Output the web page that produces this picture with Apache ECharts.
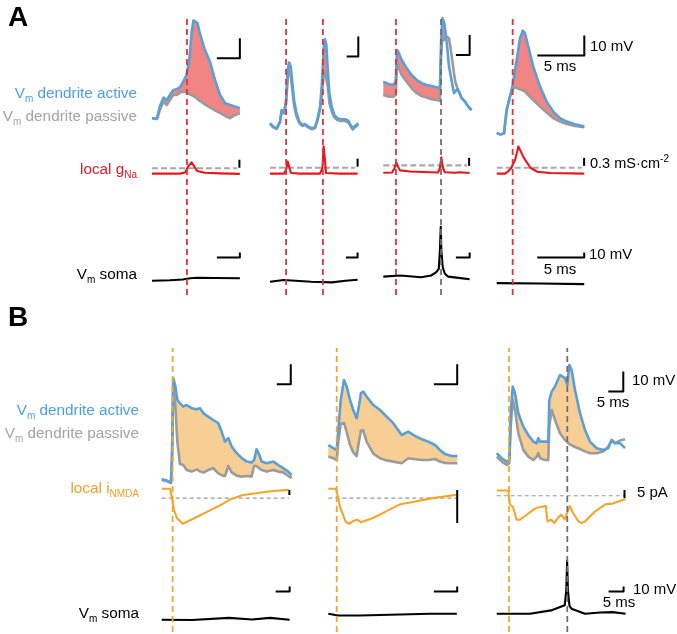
<!DOCTYPE html>
<html><head><meta charset="utf-8">
<script src="https://cdn.jsdelivr.net/npm/echarts@6/dist/echarts.min.js"></script>
<style>html,body{margin:0;padding:0;background:#fff}#c{width:677px;height:634px}</style>
</head><body><div id="c"></div>
<script>
// ================= DATA (time in ms, voltage in mV, gNa in mS/cm2, current in pA) =================
// ---- Panel A, column 1
const a1T = [0,1.1,1.7,2.5,3.2,3.9,4.6,5.4,6.1,6.8,7.5,8.1,8.6,9.0,9.4,9.9,10.4,11.5,12.6,13.7,14.8,15.9,17.0,18.0,19.1];
const a1Active = [5.9,5.9,11.7,16.2,15,17.5,20,20.4,21.4,24.2,27.5,35,48.5,54.7,55.4,53.4,48.4,40,34.2,25,17.5,13.4,12.5,11.7,10.9];
const a1Passive = [5.9,5.5,10,14.2,12.5,15,17.5,17.5,18.7,19.2,18.7,18,17.5,17,16.5,15.5,14.5,12.8,11.3,9.8,8.5,7,5.9,7.5,8.4];
const a1GT = [0,6.1,7.2,7.8,8.6,9.1,9.8,11.5,14.8,19.1];
const a1G = [0.24,0.24,0.28,0.49,0.66,0.53,0.34,0.27,0.25,0.23];
const a1ST = [0,3.9,6.7,8.3,9.8,13.7,19.1];
const a1Soma = [18.6,19.4,21,23.4,24.4,24,23.4];
const a1NaMarks = [7.6];
const a1SpikeMarks = [];
// ---- Panel A, column 2
const a2T = [0,1.4,2.9,4.3,5.0,6.0,6.9,7.6,8.2,8.9,9.6,10.4,11.4,12.6,13.9,15.0,16.5,17.9,19.3,20.3,21.5,22.3,23.0,23.6,24.2,24.8,25.5,26.5,27.6,28.9,30.3,32.2,33.6,34.6,35.5,36.5,37.9];
const a2Active = [3.4,1.7,0.9,4.2,10,8.7,15,30,33.7,31.7,23.4,14.2,8.4,4.2,2.5,3.0,1.7,0.9,1.4,5,11.7,23.4,40,45.4,42.5,30,18.4,11.7,7.5,5.9,5.4,5.4,4.7,2.5,0.9,2,3.4];
const a2Passive = [3.0,1.3,0.5,3.8,9.7,8.3,13,26,29.2,27,20,11.7,6.7,3.4,2.0,2.5,1.2,0.4,0.9,4.5,10,18,26.7,29.2,28.4,21.7,13.4,9.2,6.4,5,4.5,4.5,3.8,1.8,0.2,1.4,2.8];
const a2GT = [0,6.0,6.9,7.6,8.4,9.0,12.9,21.5,22.5,23.0,23.6,24.0,30.0,37.6];
const a2G = [0.24,0.24,0.38,0.69,0.45,0.26,0.24,0.24,0.45,1.26,0.75,0.26,0.24,0.24];
const a2ST = [0,5.9,17.7,26.5,32.4,37.6];
const a2Soma = [16.6,20,16.6,15.2,18.6,20.6];
const a2NaMarks = [6.9,22.7];
const a2SpikeMarks = [];
// ---- Panel A, column 3
const a3T = [0,1.8,3.6,4.5,5.0,5.7,6.7,8.5,10.3,12.2,14.0,15.8,17.6,19.4,20.6,21.0,21.5,22.2,23.1,23.9,24.9,25.7,26.2,26.8,27.5,28.5,29.7,30.9,32.1];
const a3Active = [24.2,23,22.5,24.2,40,38.4,35,30.9,27.5,25,23.4,22.5,22,21.4,20.9,43.4,55.9,53.4,43.4,31.7,24.2,18.4,18,20.4,19.2,15.9,14.2,11.7,10];
const a3Passive = [17.5,16.7,16.7,17.5,33.4,30.9,27.5,24.2,20.9,18.4,17,16.2,15.4,15,14.7,36.7,46.7,45,46.7,45.9,36.7,28.4,24,21.5,19.2,15.9,14.2,11.7,10];
const a3GT = [0,3.2,4.1,4.7,5.4,6.1,9.7,17.0,19.9,20.6,21.1,21.7,22.4,26.1,27.9,31.4];
const a3G = [0.27,0.28,0.45,0.66,0.49,0.36,0.32,0.29,0.28,0.45,0.85,0.45,0.29,0.27,0.29,0.26];
const a3ST = [0,6.2,13.7,17.4,19.3,20.2,20.6,20.9,21.1,21.6,22.4,23.6,27.4,31.4];
const a3Soma = [26.8,29,25.4,29,35.8,42.6,80.2,126.2,80.2,46,32.4,26.8,24.2,21.4];
const a3NaMarks = [4.6];
const a3SpikeMarks = [21.0];
// ---- Panel A, column 4
const a4T = [0,0.35,0.78,1.06,1.41,1.7,1.95,2.13,2.48,2.77,3.01,3.36,3.89,4.61,5.32,6.02,6.73,7.45,8.33,9.32];
const a4Active = [-1.4,-2.2,-1.7,10,16.7,22.5,30,35,45.9,49.7,48.4,41.7,31.7,21.7,14.2,9.2,5.9,4.2,2.9,1.7];
const a4Passive = [-1.4,-2.2,-1.7,10,16.7,20.4,21.4,21,20.4,19.8,19.2,17.5,15,11.7,8.7,5.9,4.2,3,2,1.4];
const a4GT = [0,0.9,1.22,1.55,1.95,2.31,2.86,3.59,4.32,5.67,9.31];
const a4G = [0.24,0.24,0.33,0.45,0.75,1.26,0.85,0.46,0.31,0.26,0.24];
const a4ST = [0,4.6,9.31];
const a4Soma = [13.8,13,11.8];
const a4NaMarks = [1.7];
const a4SpikeMarks = [];
const gNaRef = [0.44,0.46,0.55,0.46];

// ---- Panel B, column 1
const b1T = [0,1.8,3.3,3.7,4.1,4.8,5.6,6.5,7.7,8.9,10.7,12.5,13.7,14.9,16.6,18.4,20.2,21.4,22.6,23.8,25.0,26.8,28.6,30.4,32.1,33.0,33.9,34.9,35.7,37.5,39.9,41.6,43.4,45.2,46.4];
const b1Active = [5.4,4.7,3.7,15,55.9,52.5,45,43.4,41.7,42.5,40.9,40.4,40.9,38.4,36.7,35,33.4,29.2,24.2,25.9,21.7,18.4,15.9,14.2,13.7,15,20.4,17.5,14.2,13.4,14.2,12.5,10.9,9.2,7.5];
const b1Passive = [5,4.5,3.5,18.5,51.7,43.4,24,13,12.5,10,9.2,10.3,9.3,8.7,10,10.9,8.3,7.4,7,12,8.8,7.2,6.7,7,6.7,12,12,10.8,10,9.2,10,9.2,8.8,7,5.9];
const b1IT = [0,3.0,3.3,3.8,4.4,5.4,7.5,11.8,16.7,21.6,24.0,28.9,33.8,38.7,45.4];
const b1I = [1.2,1.2,-3,-10,-20,-28,-33.8,-28,-21.1,-14.2,-10.1,-5,-3.3,-1.2,0.1];
const b1ST = [0,10.8,24.0,32.2,38.7,45.7];
const b1Soma = [20.6,20,24.2,21,24.2,20.6];
const b1InputMarks = [3.9];
const b1SpikeMarks = [];
// ---- Panel B, column 2
const b2T = [0,1.07,1.8,2.14,2.66,3.36,3.94,4.65,5.35,6.06,6.55,6.98,7.47,8.2,9.64,11.07,12.5,13.92,15.72,17.13,18.57,20.0,21.41,22.85,23.9,24.97,26.42,27.62];
const b2Active = [22.5,20.9,20,30,45,55,51.7,45,40,35.9,41.7,48.4,49.2,46.7,42.5,40,36.7,33.4,27.5,29.2,27,25.4,24.2,22.5,20,18,17,17];
const b2Passive = [16.7,15.9,15,24.2,33,33.5,29,22.5,18.8,16.9,24,29.7,29.8,24.2,18.2,15.9,14.8,14.2,13.4,15.9,15.4,15,15,15.5,14.2,13.5,13.4,13.4];
const b2IT = [0,1.63,1.97,2.57,3.68,4.41,5.29,6.25,6.98,9.55,12.48,15.42,18.35,22.01,27.52];
const b2I = [0.18,0.18,-0.76,-2.68,-4.76,-5.12,-4.7,-4.5,-4.9,-4.24,-3.2,-2.15,-1.79,-1.27,-0.71];
const b2ST = [0,2.08,6.79,15.35,21.78,27.52];
const b2Soma = [32.4,29,29,31,32.4,32.4];
const b2InputMarks = [1.8];
const b2SpikeMarks = [];
// ---- Panel B, column 3
const b3T = [0,1.67,3.33,4.2,4.67,5.33,6.1,7.2,8.87,10.53,12.2,13.33,13.87,14.43,16.1,17.2,17.53,18.33,19.43,21.1,22.77,23.53,24.2,25.0,26.1,27.77,29.43,31.1,33.33,35.53,37.2,38.33,39.43,41.1,42.77];
const b3Active = [18.4,15.9,14.2,15,38.4,51.7,48.4,38.4,31.7,27.5,24.2,23.4,25.9,24.2,24.2,24.2,45,49.2,51.7,57.5,55.9,52.5,62.5,60,50,38.4,30,24.2,20.9,20,20.9,25,23.4,23.4,20.9];
const b3Passive = [16.7,14.2,12.5,13.4,31.7,45,40,28.4,20,16.7,15,16.7,18.4,15.9,15,15,31.7,40,35,28.4,25,24,23,22.3,21.5,20.5,19.3,18.4,18.4,19.2,21.7,25,23.4,24.7,25.4];
const b3IT = [0,3.83,4.4,5.43,6.67,7.77,10.1,12.37,13.43,14.67,16.37,16.93,18.1,19.23,20.37,21.5,22.67,23.47,24.37,25.43,27.23,28.37,29.43,32.93,36.37,38.63,39.2,42.97];
const b3I = [-0.31,-0.31,-8.88,-10.63,-18.56,-18.56,-15.31,-12.13,-11.06,-10.63,-10,-19.63,-18.56,-20.69,-17.44,-15.31,-18.56,-14.25,-10,-14.25,-19.63,-20.69,-19.63,-13.19,-8.88,-8.5,-7.81,-5.69];
const b3ST = [0,11.1,18.1,22.67,23.2,23.47,23.73,24.27,24.93,29.43,34.43,38.63,42.97];
const b3Soma = [32.4,32.4,39.2,49.4,80,138.4,80,48,42.6,32.4,35,35.8,32.4];
const b3InputMarks = [4.1];
const b3SpikeMarks = [23.53];
const iNmdaRef = [-8.1,-1.23,-3.56];

// ================= LAYOUT (pixels) & STYLE =================
const A_COLS = [
  {left:152, width:88, tMax:19.13},
  {left:270, width:88.3, tMax:37.9},
  {left:383.3, width:88.4, tMax:32.15},
  {left:496.7, width:87.6, tMax:9.32}
];
const A_ROWS = {dend:{top:10,height:130,min:-5,max:60}, g:{top:140,height:40,min:0,max:1.5}, soma:{top:215,height:75,min:0,max:150}, marks:{top:16,height:279}};
const B_COLS = [
  {left:161.7, width:130, tMax:46.43, iMin:-40, iMax:8},
  {left:328.3, width:129, tMax:27.62, iMin:-6.06, iMax:1.21},
  {left:496.7, width:128.3, tMax:42.77, iMin:-25, iMax:5}
];
const B_ROWS = {dend:{top:340,height:150,min:0,max:75}, i:{top:482,height:48}, soma:{top:545,height:85,min:0,max:170}, marks:{top:348,height:284}};
// scale bars in data units (5 ms / 10 mV / 0.3 mS cm-2 / 5 pA)
const A_SB_DEND = [{t:19.1,v:35.9},{t:37.9,v:36.7},{t:31.4,v:37.5},{t:9.32,v:37.2}];
const A_SB_G = [{t:19.0,g:0.46},{t:37.6,g:0.50},{t:31.2,g:0.53},{t:9.3,g:0.53}];
const A_SB_SOMA = [{t:19.1,v:65.2},{t:37.6,v:65.2},{t:31.4,v:65.2},{t:9.31,v:65.2}];
const B_SB_DEND = [{t:46.1,v:52.9},{t:27.6,v:52.9},{t:42.2,v:49.2}];
const B_SB_I = [{t:45.6},{t:27.6},{t:42.6}];
const B_SB_SOMA = [{t:45.7,v:76.8},{t:27.6,v:76.8},{t:42.3,v:76.8}];

const C = {active:'#5a9fd6', passive:'#9b9b9b', red:'#e5161c', redFill:'#f08583', redMark:'#e0343a',
  orange:'#f3a52d', orangeFill:'#f7ce93', spikeMark:'#6f6f6f', gRef:'#a8a8a8', iRef:'#999999',
  lblBlue:'#4d9fe2', lblGrey:'#a3a3a3', lblRed:'#e3191f', lblOrange:'#f0a02a'};
const FONT = '"Liberation Sans", Arial, Helvetica, sans-serif';

// ================= BUILD =================
const grids=[], xAxes=[], yAxes=[], series=[];
function addGrid(left, top, width, height, xmax, ymin, ymax){
  grids.push({left, top, width, height, show:false, containLabel:false});
  const gi = grids.length-1;
  xAxes.push({type:'value', gridIndex:gi, min:0, max:xmax, show:false});
  yAxes.push({type:'value', gridIndex:gi, min:ymin, max:ymax, show:false});
  return gi;
}
function line(gi, t, v, color, width, z, dash){
  series.push({type:'line', xAxisIndex:gi, yAxisIndex:gi, data:t.map((x,i)=>[x,v[i]]),
    showSymbol:false, symbol:'none', clip:false, silent:true, animation:false, z:z||3,
    lineStyle:{color, width, type:dash||'solid', cap:'butt', join:'round'}});
}
function fill(gi, t, up, lo, color){
  series.push({type:'custom', xAxisIndex:gi, yAxisIndex:gi, silent:true, z:1, animation:false,
    data:[[t[0], lo[0]]],
    renderItem:(p, api)=>{
      const pts=[];
      for(let i=0;i<t.length;i++) pts.push(api.coord([t[i], Math.max(up[i], lo[i])]));
      for(let i=t.length-1;i>=0;i--) pts.push(api.coord([t[i], lo[i]]));
      return {type:'polygon', shape:{points:pts}, style:{fill:color}};
    }});
}
function marks(gi, list, color){
  list.forEach(m=>line(gi, [m,m], [0,1], color, 1.8, 6, [6,4]));
}

const panelA = [
  {t:a1T, act:a1Active, pas:a1Passive, gt:a1GT, g:a1G, st:a1ST, soma:a1Soma, na:a1NaMarks, sp:a1SpikeMarks},
  {t:a2T, act:a2Active, pas:a2Passive, gt:a2GT, g:a2G, st:a2ST, soma:a2Soma, na:a2NaMarks, sp:a2SpikeMarks},
  {t:a3T, act:a3Active, pas:a3Passive, gt:a3GT, g:a3G, st:a3ST, soma:a3Soma, na:a3NaMarks, sp:a3SpikeMarks},
  {t:a4T, act:a4Active, pas:a4Passive, gt:a4GT, g:a4G, st:a4ST, soma:a4Soma, na:a4NaMarks, sp:a4SpikeMarks}
];
panelA.forEach((d,c)=>{
  const L = A_COLS[c];
  const R = A_ROWS;
  const gd = addGrid(L.left, R.dend.top, L.width, R.dend.height, L.tMax, R.dend.min, R.dend.max);
  fill(gd, d.t, d.act, d.pas, C.redFill);
  line(gd, d.t, d.pas, C.passive, 2.6, 2);
  line(gd, d.t, d.act, C.active, 2.6, 3);
  const s1 = A_SB_DEND[c];
  line(gd, [s1.t-5, s1.t, s1.t], [s1.v, s1.v, s1.v+10], '#000', 2, 4);

  const gg = addGrid(L.left, R.g.top, L.width, R.g.height, L.tMax, R.g.min, R.g.max);
  line(gg, [0, d.gt[d.gt.length-1]-0.03*L.tMax], [gNaRef[c], gNaRef[c]], C.gRef, 2.2, 2, [6,3]);
  line(gg, d.gt, d.g, C.red, 2.1, 3);
  const s2 = A_SB_G[c];
  line(gg, [s2.t, s2.t], [s2.g, s2.g+0.3], '#000', 2, 4);

  const gs = addGrid(L.left, R.soma.top, L.width, R.soma.height, L.tMax, R.soma.min, R.soma.max);
  line(gs, d.st, d.soma, '#000', 2.1, 3);
  const s3 = A_SB_SOMA[c];
  line(gs, [s3.t-5, s3.t, s3.t], [s3.v, s3.v, s3.v+10], '#000', 2, 4);

  const gm = addGrid(L.left, R.marks.top, L.width, R.marks.height, L.tMax, 0, 1);
  marks(gm, d.na, C.redMark);
  marks(gm, d.sp, C.spikeMark);
});

const panelB = [
  {t:b1T, act:b1Active, pas:b1Passive, it:b1IT, i:b1I, st:b1ST, soma:b1Soma, inp:b1InputMarks, sp:b1SpikeMarks},
  {t:b2T, act:b2Active, pas:b2Passive, it:b2IT, i:b2I, st:b2ST, soma:b2Soma, inp:b2InputMarks, sp:b2SpikeMarks},
  {t:b3T, act:b3Active, pas:b3Passive, it:b3IT, i:b3I, st:b3ST, soma:b3Soma, inp:b3InputMarks, sp:b3SpikeMarks}
];
panelB.forEach((d,c)=>{
  const L = B_COLS[c];
  const R = B_ROWS;
  const gd = addGrid(L.left, R.dend.top, L.width, R.dend.height, L.tMax, R.dend.min, R.dend.max);
  fill(gd, d.t, d.act, d.pas, C.orangeFill);
  line(gd, d.t, d.pas, C.passive, 2.6, 2);
  line(gd, d.t, d.act, C.active, 2.6, 3);
  const s1 = B_SB_DEND[c];
  line(gd, [s1.t-5, s1.t, s1.t], [s1.v, s1.v, s1.v+10], '#000', 2, 4);

  const gi = addGrid(L.left, R.i.top, L.width, R.i.height, L.tMax, L.iMin, L.iMax);
  line(gi, [0, d.it[d.it.length-1]], [iNmdaRef[c], iNmdaRef[c]], C.iRef, 1.1, 2, [4,3]);
  line(gi, d.it, d.i, C.orange, 2.1, 3);
  const s2 = B_SB_I[c];
  line(gi, [s2.t, s2.t], [-5, 0], '#000', 2, 4);

  const gs = addGrid(L.left, R.soma.top, L.width, R.soma.height, L.tMax, R.soma.min, R.soma.max);
  line(gs, d.st, d.soma, '#000', 2.1, 3);
  const s3 = B_SB_SOMA[c];
  line(gs, [s3.t-5, s3.t, s3.t], [s3.v, s3.v, s3.v+10], '#000', 2, 4);

  const gm = addGrid(L.left, R.marks.top, L.width, R.marks.height, L.tMax, 0, 1);
  marks(gm, d.inp, C.orange);
  marks(gm, d.sp, C.spikeMark);
});

// ================= TEXT =================
function rich(color, size){
  return {
    n:{fontSize:size, fontFamily:FONT, fill:color, lineHeight:20},
    s:{fontSize:Math.round(size*0.68), fontFamily:FONT, fill:color, lineHeight:6, verticalAlign:'bottom'},
    p:{fontSize:Math.round(size*0.68), fontFamily:FONT, fill:color, lineHeight:10, verticalAlign:'top'}
  };
}
function txt(x, y, text, color, align, size, useRich, weight){
  const st = {text, fill:color, align, verticalAlign:'middle', font:(weight||'normal')+' '+size+'px '+FONT};
  if (useRich) st.rich = rich(color, size);
  return {type:'text', x, y, silent:true, z:10, style:st};
}
const LBL = 15.3;
const graphic = [
  txt(8, 18, 'A', '#000', 'left', 28, false, 'bold'),
  txt(8, 318, 'B', '#000', 'left', 28, false, 'bold'),
  txt(137, 94, '{n|V}{s|m}{n| dendrite active}', C.lblBlue, 'right', LBL, true),
  txt(137, 117, '{n|V}{s|m}{n| dendrite passive}', C.lblGrey, 'right', LBL, true),
  txt(137, 170, '{n|local g}{s|Na}', C.lblRed, 'right', LBL, true),
  txt(137, 275, '{n|V}{s|m}{n| soma}', '#000', 'right', LBL, true),
  txt(139, 411, '{n|V}{s|m}{n| dendrite active}', C.lblBlue, 'right', LBL, true),
  txt(139, 434, '{n|V}{s|m}{n| dendrite passive}', C.lblGrey, 'right', LBL, true),
  txt(139, 489, '{n|local i}{s|NMDA}', C.lblOrange, 'right', LBL, true),
  txt(139, 614, '{n|V}{s|m}{n| soma}', '#000', 'right', LBL, true),
  txt(590, 47, '10 mV', '#000', 'left', 15),
  txt(560, 67, '5 ms', '#000', 'center', 15),
  txt(590, 164, '{n|0.3 mS·cm}{p|-2}', '#000', 'left', 14.5, true),
  txt(589, 255, '10 mV', '#000', 'left', 15),
  txt(560, 270, '5 ms', '#000', 'center', 15),
  txt(632, 381, '10 mV', '#000', 'left', 15),
  txt(613, 403, '5 ms', '#000', 'center', 15),
  txt(637, 493, '5 pA', '#000', 'left', 15),
  txt(633, 590, '10 mV', '#000', 'left', 15),
  txt(619, 603, '5 ms', '#000', 'center', 15)
];

const chart = echarts.init(document.getElementById('c'), null, {renderer:'canvas'});
chart.setOption({
  animation:false,
  backgroundColor:'#fff',
  grid:grids, xAxis:xAxes, yAxis:yAxes, series:series, graphic:graphic
});
</script></body></html>
